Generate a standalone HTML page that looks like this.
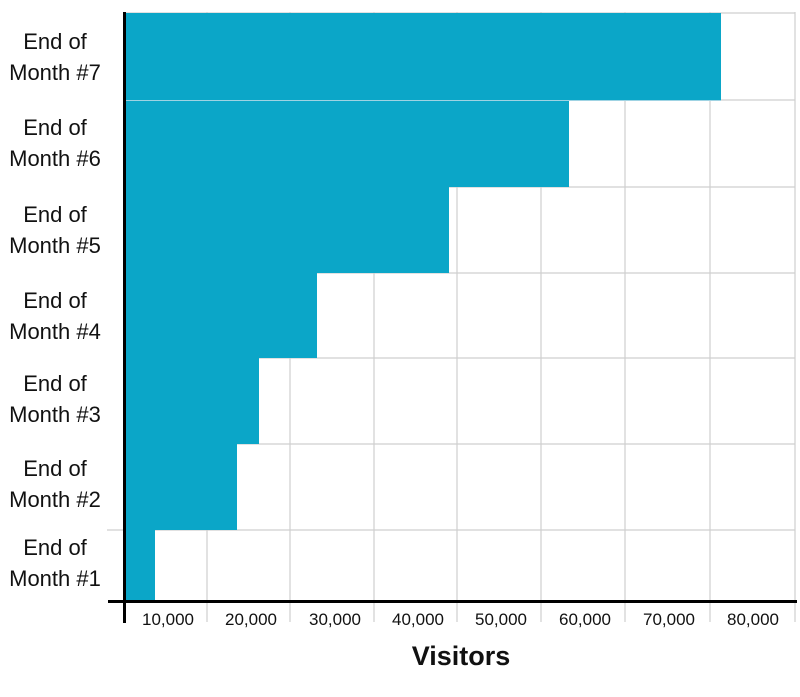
<!DOCTYPE html><html><head><style>body{margin:0;background:#fff}</style></head><body>
<svg width="800" height="692" xmlns="http://www.w3.org/2000/svg" font-family="Liberation Sans, sans-serif">
<g stroke="#cfcfcf" stroke-width="1.2">
<line x1="207" y1="12" x2="207" y2="622"/><line x1="290" y1="12" x2="290" y2="622"/><line x1="374" y1="12" x2="374" y2="622"/><line x1="457" y1="12" x2="457" y2="622"/><line x1="541" y1="12" x2="541" y2="622"/><line x1="625" y1="12" x2="625" y2="622"/><line x1="710" y1="12" x2="710" y2="622"/><line x1="795" y1="12" x2="795" y2="622"/>
<line x1="125" y1="13" x2="795" y2="13"/><line x1="125" y1="100" x2="795" y2="100"/><line x1="125" y1="187" x2="795" y2="187"/><line x1="125" y1="273" x2="795" y2="273"/><line x1="125" y1="358" x2="795" y2="358"/><line x1="125" y1="444" x2="795" y2="444"/><line x1="107" y1="530" x2="795" y2="530"/>
</g>
<g fill="#0ba6c8">
<rect x="125" y="13" width="596" height="88"/><rect x="125" y="101" width="444" height="86"/><rect x="125" y="187" width="324" height="86"/><rect x="125" y="273" width="192" height="85"/><rect x="125" y="358" width="134" height="86"/><rect x="125" y="444" width="112" height="86"/><rect x="125" y="530" width="30" height="71"/>
</g>
<g stroke="#9fd3e3" stroke-width="1"><line x1="125" y1="100.5" x2="721" y2="100.5"/></g>
<line x1="108" y1="601.5" x2="797" y2="601.5" stroke="#000" stroke-width="3"/>
<line x1="124.5" y1="12" x2="124.5" y2="623" stroke="#000" stroke-width="3"/>
<g font-size="22" text-anchor="middle" fill="#111">
<text x="55" y="49">End of</text><text x="55" y="80">Month #7</text>
<text x="55" y="135">End of</text><text x="55" y="166">Month #6</text>
<text x="55" y="222">End of</text><text x="55" y="253">Month #5</text>
<text x="55" y="308">End of</text><text x="55" y="339">Month #4</text>
<text x="55" y="391">End of</text><text x="55" y="422">Month #3</text>
<text x="55" y="476">End of</text><text x="55" y="507">Month #2</text>
<text x="55" y="555">End of</text><text x="55" y="586">Month #1</text>
</g>
<g font-size="17" text-anchor="middle" fill="#111">
<text x="168" y="625">10,000</text><text x="251" y="625">20,000</text><text x="335" y="625">30,000</text><text x="418" y="625">40,000</text><text x="501" y="625">50,000</text><text x="585" y="625">60,000</text><text x="669" y="625">70,000</text><text x="753" y="625">80,000</text>
</g>
<text x="461" y="665" font-size="27" font-weight="bold" text-anchor="middle" fill="#111">Visitors</text>
</svg></body></html>
